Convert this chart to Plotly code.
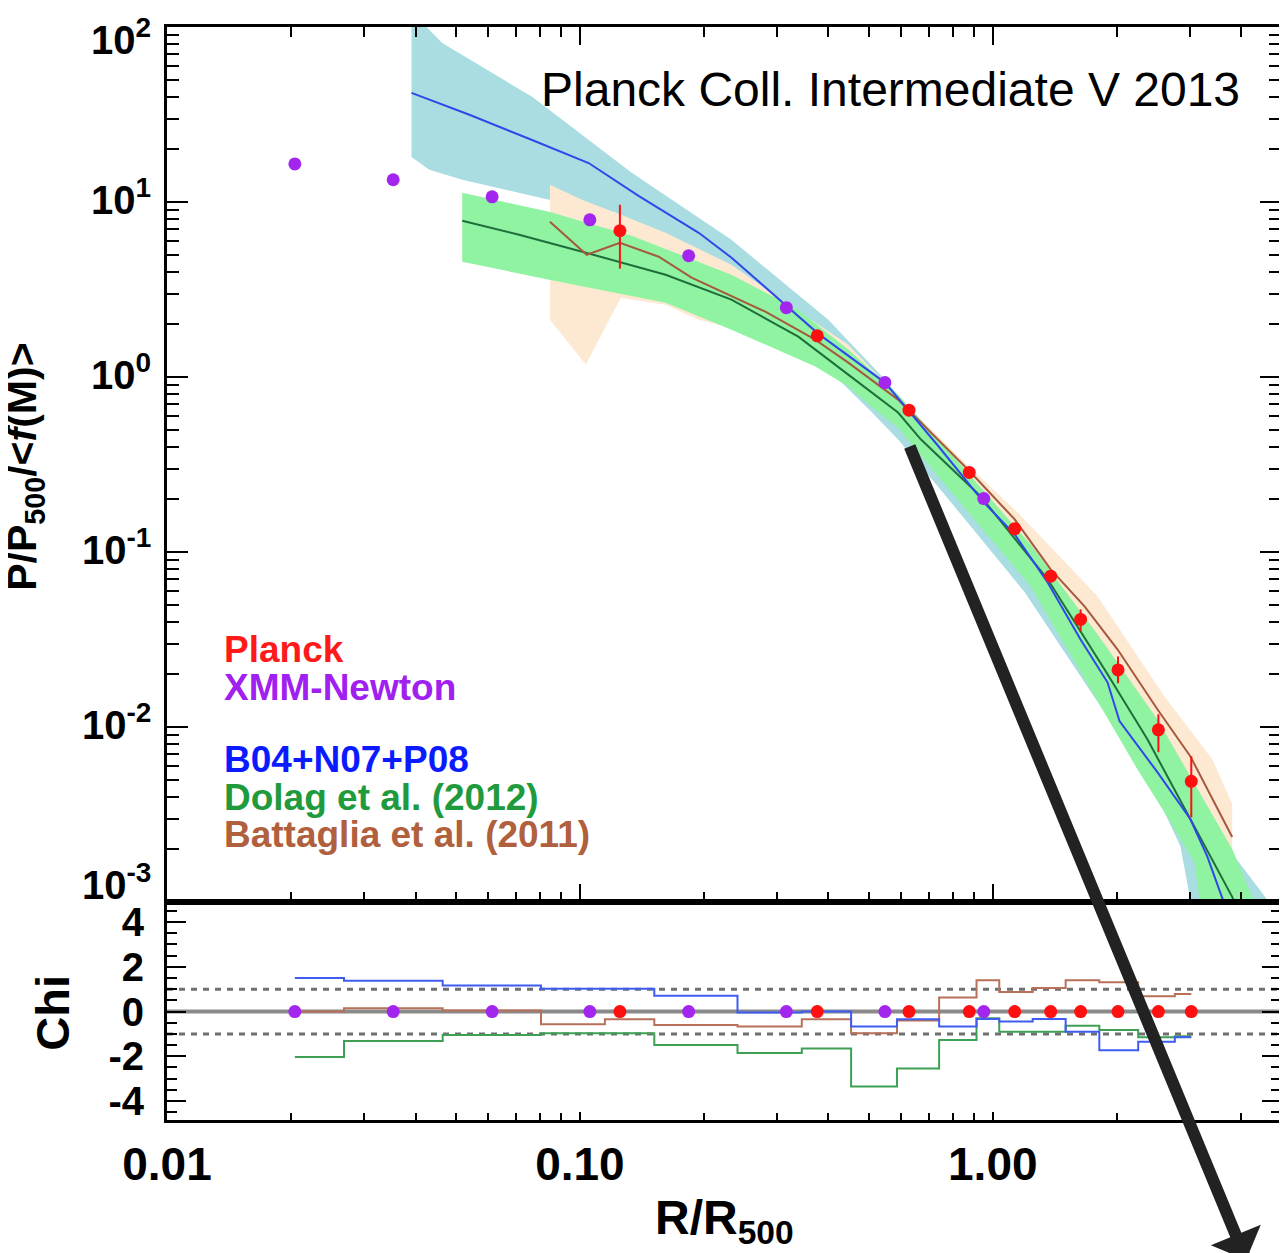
import plotly.graph_objects as go

FONT = "Liberation Sans, Arial, Helvetica, sans-serif"

# ---------------- data ----------------
# XMM-Newton points
xmm_r = [0.0204, 0.0353, 0.0613, 0.1057, 0.1834, 0.3162, 0.548, 0.951]
xmm_p = [16.5, 13.4, 10.7, 7.91, 4.93, 2.49, 0.929, 0.202]

# Planck points with asymmetric errors
planck_r = [0.125, 0.3757, 0.6267, 0.877, 1.13, 1.381, 1.632, 2.01, 2.518, 3.025]
planck_p = [6.85, 1.72, 0.646, 0.285, 0.136, 0.0728, 0.0412, 0.0212, 0.00963, 0.00489]
planck_hi = [9.64, 1.80, 0.675, 0.296, 0.141, 0.0765, 0.047, 0.0253, 0.01183, 0.00681]
planck_lo = [4.16, 1.64, 0.618, 0.274, 0.131, 0.069, 0.0352, 0.0178, 0.00718, 0.00305]

# B04+N07+P08 (blue) model and dispersion band
b04_r = [0.0391, 0.0540, 0.0766, 0.105, 0.139, 0.194, 0.233, 0.3146, 0.3776, 0.548,
         0.736, 0.951, 1.13, 1.358, 1.63, 1.896, 2.027, 2.504, 3.008, 3.305, 3.63, 3.75]
b04_p = [42.0, 31.5, 22.6, 16.7, 10.8, 6.67, 4.80, 2.56, 1.77, 0.929,
         0.406, 0.192, 0.126, 0.067, 0.0317, 0.0180, 0.0108, 0.00552, 0.00298, 0.00183, 0.001, 0.0008]
b04_up_r = [0.0391, 0.0425, 0.0464, 0.0766, 0.1335, 0.2328, 0.399, 0.548, 0.659, 0.856,
            1.149, 1.793, 2.603, 3.842, 4.564, 5.16]
b04_up_p = [125, 100, 81.0, 39.9, 14.7, 6.08, 2.13, 0.967, 0.571, 0.296,
            0.1438, 0.0458, 0.01183, 0.00183, 0.00107, 0.000701]
b04_lo_r = [0.0391, 0.04318, 0.05188, 0.0842, 0.1222, 0.1938, 0.338, 0.5073, 0.5895, 0.7365,
            0.8849, 1.195, 1.492, 1.864, 2.239, 2.603, 2.845, 3.008, 3.042]
b04_lo_p = [18.1, 15.27, 13.39, 10.29, 8.68, 5.34, 1.635, 0.6346, 0.439, 0.2368,
            0.14, 0.0588, 0.02672, 0.01215, 0.00597, 0.003264, 0.002087, 0.00104, 0.000701]

# Battaglia et al. (2011) (brown) model and band
bat_r = [0.0846, 0.1039, 0.125, 0.1552, 0.1864, 0.2813, 0.3715, 0.4466, 0.5895, 0.88,
         1.13, 1.381, 1.668, 2.004, 2.504, 3.008, 3.80]
bat_p = [7.71, 4.996, 5.85, 4.867, 3.694, 2.362, 1.635, 1.208, 0.743, 0.2884,
         0.1535, 0.0796, 0.0489, 0.0278, 0.01264, 0.00681, 0.00235]
bat_up_r = [0.0846, 0.1011, 0.1222, 0.1613, 0.2328, 0.3076, 0.4466, 0.5895, 0.856, 1.149,
            1.793, 2.603, 3.40, 3.80, 3.80]
bat_up_p = [12.54, 10.29, 8.68, 6.67, 4.38, 2.766, 1.531, 0.7727, 0.3247, 0.1683,
            0.0558, 0.015, 0.00655, 0.003625, 0.00193]
bat_lo_r = [0.0846, 0.1034, 0.1256, 0.1613, 0.1938, 0.2328, 0.4466, 0.7786, 1.358, 2.368, 3.128, 3.80]
bat_lo_p = [2.127, 1.177, 2.84, 2.589, 2.127, 1.914, 0.967, 0.296, 0.0745, 0.01183, 0.00387, 0.00193]

# Dolag et al. (2012) (green) model and band
dol_r = [0.05188, 0.07125, 0.1034, 0.1613, 0.2328, 0.338, 0.4466, 0.5895, 0.6701, 0.9354,
         1.358, 1.864, 2.368, 3.162, 3.80, 3.907]
dol_p = [7.81, 6.50, 5.13, 3.842, 2.766, 1.701, 1.032, 0.6263, 0.439, 0.2077,
         0.0698, 0.02138, 0.00852, 0.00238, 0.00107, 0.000912]
dol_up_r = [0.05188, 0.0842, 0.1335, 0.2328, 0.338, 0.4466, 0.5895, 0.856, 1.235, 1.793,
            2.504, 3.128, 3.80, 4.246, 4.416]
dol_up_p = [11.28, 8.79, 6.41, 3.842, 2.425, 1.434, 0.7934, 0.296, 0.1105, 0.03386,
            0.01108, 0.004416, 0.002007, 0.00107, 0.000912]
dol_lo_r = [0.05188, 0.0842, 0.1613, 0.2328, 0.3715, 0.4466, 0.5073, 0.5895, 0.7486, 1.235,
            1.668, 2.239, 2.603, 3.076, 3.162, 3.18]
dol_lo_p = [4.557, 3.597, 2.659, 1.865, 1.147, 0.8815, 0.6779, 0.5144, 0.2597, 0.0637,
            0.01874, 0.005742, 0.003264, 0.00169, 0.00107, 0.000912]

# Chi residuals (one value per data radius, sorted)
chi_b04 = [1.50, 1.38, 1.17, 1.02, 1.02, 0.71, -0.04, 0.0, -0.67, -0.34,
           -0.67, -0.33, -0.45, -0.33, -0.90, -1.73, -1.35, -1.15]
chi_dol = [-2.03, -1.32, -1.05, -0.97, -0.97, -1.50, -1.85, -1.65, -3.35, -2.55,
           -1.27, -0.30, -0.90, -0.90, -0.64, -0.82, -1.15, -1.10]
chi_bat = [0.0, 0.15, 0.05, -0.57, -0.34, -0.60, -0.67, -0.34, -0.97, -0.40,
           0.63, 1.40, 0.87, 1.05, 1.40, 1.31, 0.68, 0.78]

legend_items = [("Planck", "#ff1a1a"), ("XMM-Newton", "#a020f0"),
                ("B04+N07+P08", "#0a1cff"), ("Dolag et al. (2012)", "#1f9a3c"),
                ("Battaglia et al. (2011)", "#b0603c")]
legend_rows = [0.4305, 0.396, 0.330, 0.295, 0.261]

y_exponents = [2, 1, 0, -1, -2, -3]
chi_ticks = [-4, -2, 0, 2, 4]
x_ticks = [0.01, 0.1, 1.0]
x_ticktext = ["0.01", "0.10", "1.00"]

# ---------------- colours ----------------
C_CYAN = "#a9dde1"
C_PEACH = "#fde8d2"
C_LGREEN = "#90f3a2"
C_BLUE = "#3048ea"
C_BROWN = "#a45a3c"
C_DGREEN = "#1d6e3a"
C_RED = "#ff1010"
C_PURPLE = "#a326ee"

fig = go.Figure()


def add_band(up_r, up_p, lo_r, lo_p, color):
    fig.add_trace(go.Scatter(x=up_r + lo_r[::-1], y=up_p + lo_p[::-1], mode="lines",
                             fill="toself", fillcolor=color, line=dict(width=0),
                             hoverinfo="skip", showlegend=False, xaxis="x", yaxis="y"))


add_band(b04_up_r, b04_up_p, b04_lo_r, b04_lo_p, C_CYAN)
add_band(bat_up_r, bat_up_p, bat_lo_r, bat_lo_p, C_PEACH)
add_band(dol_up_r, dol_up_p, dol_lo_r, dol_lo_p, C_LGREEN)

for r, p, c in [(dol_r, dol_p, C_DGREEN), (bat_r, bat_p, C_BROWN), (b04_r, b04_p, C_BLUE)]:
    fig.add_trace(go.Scatter(x=r, y=p, mode="lines", line=dict(color=c, width=2),
                             showlegend=False, xaxis="x", yaxis="y"))

fig.add_trace(go.Scatter(x=xmm_r, y=xmm_p, mode="markers",
                         marker=dict(color=C_PURPLE, size=13, line=dict(width=0)),
                         showlegend=False, xaxis="x", yaxis="y"))
fig.add_trace(go.Scatter(
    x=planck_r, y=planck_p, mode="markers",
    marker=dict(color=C_RED, size=13, line=dict(width=0)),
    error_y=dict(type="data", symmetric=False,
                 array=[h - p for h, p in zip(planck_hi, planck_p)],
                 arrayminus=[p - l for p, l in zip(planck_p, planck_lo)],
                 color=C_RED, thickness=2, width=0),
    showlegend=False, xaxis="x", yaxis="y"))

# ---------------- chi panel ----------------
chi_r = sorted(xmm_r + planck_r)
for vals, c in [(chi_dol, "#3f9f55"), (chi_bat, "#b87058"), (chi_b04, "#3e5cf2")]:
    fig.add_trace(go.Scatter(x=chi_r, y=vals, mode="lines", line=dict(color=c, width=2, shape="hvh"),
                             showlegend=False, xaxis="x2", yaxis="y2"))
fig.add_trace(go.Scatter(x=xmm_r, y=[0] * len(xmm_r), mode="markers",
                         marker=dict(color=C_PURPLE, size=13), showlegend=False,
                         xaxis="x2", yaxis="y2"))
fig.add_trace(go.Scatter(x=planck_r, y=[0] * len(planck_r), mode="markers",
                         marker=dict(color=C_RED, size=13), showlegend=False,
                         xaxis="x2", yaxis="y2"))

fig.add_shape(type="line", xref="x2 domain", yref="y2", x0=0, x1=1, y0=0, y1=0,
              line=dict(color="#8a8a8a", width=4), layer="below")
for yv in (1, -1):
    fig.add_shape(type="line", xref="x2 domain", yref="y2", x0=0, x1=1, y0=yv, y1=yv,
                  line=dict(color="#6f6f6f", width=3, dash="6px,6px"), layer="below")

# ---------------- axes ----------------
x_minor = [k * 10 ** d for d in (-2, -1, 0) for k in range(2, 10) if k * 10 ** d < 5]
y_minor = [k * 10.0 ** d for d in (-3, -2, -1, 0, 1) for k in range(2, 10)]
XR = [-2, 0.698]
D_SPLIT = 0.19945

ax_common = dict(showline=True, linecolor="black", linewidth=3, ticks="inside",
                 tickcolor="black", tickwidth=2, showgrid=False, zeroline=False)

# the page body adds an 8 px offset, so margins are shifted accordingly
fig.update_layout(
    width=1287, height=1253,
    margin=dict(l=159, r=11, t=19, b=141),
    paper_bgcolor="white", plot_bgcolor="white",
    font=dict(family=FONT, color="black"),
    xaxis=dict(type="log", range=XR, domain=[0, 1], anchor="y", mirror="ticks",
               tickvals=x_ticks, ticklen=18, showticklabels=False,
               minor=dict(tickvals=x_minor, ticklen=10, tickwidth=2, tickcolor="black",
                          ticks="inside", showgrid=False), **ax_common),
    yaxis=dict(type="log", range=[-3, 2], domain=[D_SPLIT, 1], anchor="x", mirror="ticks",
               tickvals=[10.0 ** e for e in y_exponents], ticklen=21, showticklabels=False,
               minor=dict(tickvals=y_minor, ticklen=12, tickwidth=2, tickcolor="black",
                          ticks="inside", showgrid=False), **ax_common),
    xaxis2=dict(type="log", range=XR, domain=[0, 1], anchor="y2", mirror=True,
                tickvals=x_ticks, ticktext=x_ticktext, ticklen=8,
                tickfont=dict(size=46, family=FONT, weight="bold"), ticklabelstandoff=2,
                minor=dict(tickvals=x_minor, ticklen=7, tickwidth=2, tickcolor="black",
                           ticks="inside", showgrid=False), **ax_common),
    yaxis2=dict(range=[-4.85, 4.9], domain=[0, D_SPLIT], anchor="x2", mirror="ticks",
                tickvals=chi_ticks, ticktext=[str(v) for v in chi_ticks], ticklen=19,
                tickfont=dict(size=40, family=FONT, weight="bold"), ticklabelstandoff=12,
                minor=dict(dtick=0.5, ticklen=10, tickwidth=2, tickcolor="black",
                           ticks="inside", showgrid=False), **ax_common),
)

# y tick labels of the top panel (10^n)
for e in y_exponents:
    shift = -15 if e == 2 else (15 if e == -3 else 0)
    fig.add_annotation(xref="paper", yref="y", x=0, y=e, xanchor="right", yanchor="middle",
                       xshift=-14, yshift=shift + 5, showarrow=False,
                       text=f"10<sup>{e}</sup>",
                       font=dict(size=40, family=FONT, weight="bold", color="black"))

# axis titles
fig.add_annotation(xref="paper", yref="paper", x=-0.1271, y=0.598, textangle=-90,
                   text="P/P<sub>500</sub>/&lt;<i>f</i>(M)&gt;", showarrow=False,
                   xanchor="center", yanchor="middle",
                   font=dict(size=41, family=FONT, weight="bold", color="black"))
fig.add_annotation(xref="paper", yref="paper", x=-0.103, y=0.0984, textangle=-90,
                   text="Chi", showarrow=False, xanchor="center", yanchor="middle",
                   font=dict(size=47, family=FONT, weight="bold", color="black"))
fig.add_annotation(xref="paper", yref="paper", x=0.5, y=-0.092,
                   text="R/R<sub>500</sub>", showarrow=False, xanchor="center", yanchor="middle",
                   font=dict(size=48, family=FONT, weight="bold", color="black"))

# corner label
fig.add_annotation(xref="paper", yref="paper", x=0.9606, y=0.9424, xanchor="right",
                   yanchor="middle", xshift=5, text="Planck Coll. Intermediate V 2013",
                   showarrow=False, font=dict(size=48, family=FONT, color="black"))

# coloured legend text
for (txt, col), yy in zip(legend_items, legend_rows):
    fig.add_annotation(xref="paper", yref="paper", x=0.0495, y=yy, xanchor="left",
                       yanchor="middle", text=txt, showarrow=False,
                       font=dict(size=37, family=FONT, weight="bold", color=col))

# black arrow overlay
fig.add_annotation(xref="paper", yref="paper", x=0.9687, y=-0.1354, ax=-337, ay=-823,
                   axref="pixel", ayref="pixel", text="", showarrow=True,
                   arrowhead=1, arrowsize=0.75, arrowwidth=12, arrowcolor="#222222")

fig.write_html("out.html")
